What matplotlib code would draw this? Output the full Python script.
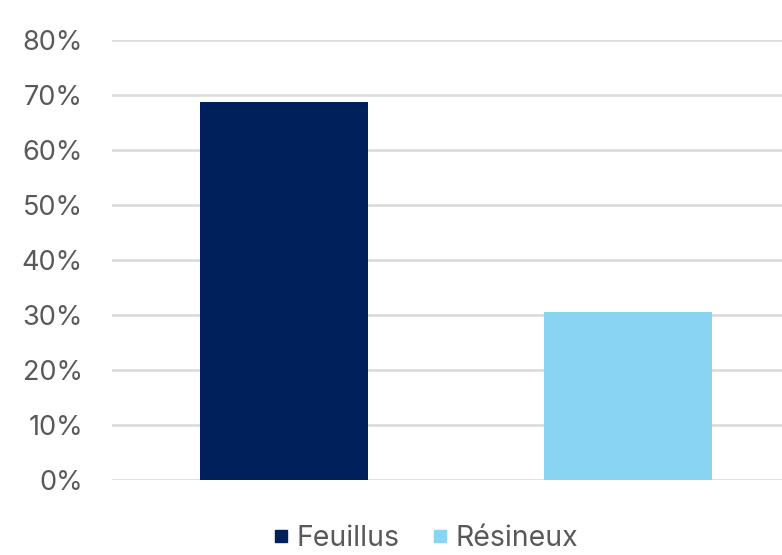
import matplotlib
matplotlib.use("Agg")
import matplotlib.pyplot as plt
from matplotlib.ticker import FuncFormatter
from matplotlib.lines import Line2D

categories = ["Feuillus", "Résineux"]
values = [68.7, 30.6]
colors = ["#00205B", "#89D4F3"]
yticks = [0, 10, 20, 30, 40, 50, 60, 70, 80]

plt.rcParams['font.family'] = ['Inter', 'DejaVu Sans']

fig = plt.figure(figsize=(7.82, 5.55), dpi=100)
ax = fig.add_axes([112/782, 75/555, 670/782, 440/555])

x = list(range(len(categories)))
ax.bar(x, values, width=0.488, color=colors, zorder=3)
ax.set_xlim(-0.5, 1.448)
ax.set_ylim(0, 80)
ax.set_yticks(yticks)
ax.yaxis.set_major_formatter(FuncFormatter(lambda v, p: f"{int(v)}%"))
ax.tick_params(axis='y', length=0, pad=21, labelsize=19.5, labelcolor="#595959")
ax.set_xticks([])
for s in ax.spines.values():
    s.set_visible(False)
ax.grid(axis='y', color="#D9D9D9", linewidth=1.8, zorder=0)

handles = [Line2D([0], [0], marker='s', linestyle='none', markersize=8,
                  markerfacecolor=c, markeredgecolor=c) for c in colors]
fig.legend(handles, categories, loc='center', bbox_to_anchor=(424/782, 1 - 538/555),
           ncol=2, frameon=False, fontsize=20.5, labelcolor="#595959",
           handletextpad=0.15, columnspacing=1.0, handlelength=0.8)

fig.savefig("out.png", dpi=100)
